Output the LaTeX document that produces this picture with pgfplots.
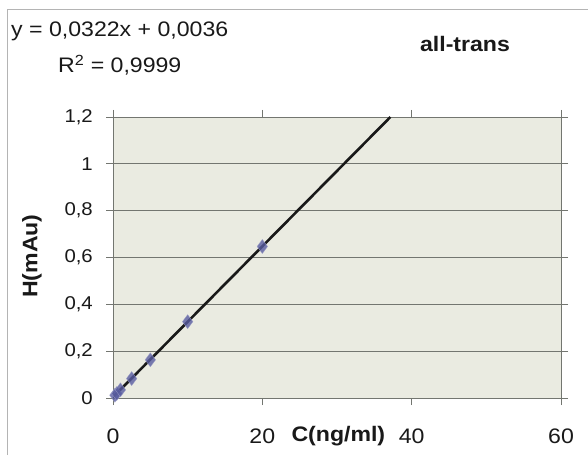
\documentclass[border=0pt]{standalone}
\usepackage{pgfplots}
\pgfplotsset{compat=1.18}
\usepackage{fontspec}
\setmainfont{Liberation Sans}[FakeStretch=1.1]

\definecolor{plotbg}{RGB}{234,235,225}
\definecolor{gridgray}{RGB}{115,118,112}
\definecolor{markblue}{RGB}{88,92,160}
\definecolor{framegray}{RGB}{180,180,180}

\begin{document}
\begin{tikzpicture}[x=1pt,y=1pt]
\path[use as bounding box] (0,0) rectangle (588,455);
\fill[white] (0,0) rectangle (588,455);
\draw[framegray, line width=1pt] (7,0) -- (7,445) -- (588,445);

\begin{axis}[
    at={(113pt,57pt)}, anchor=south west,
    scale only axis,
    width=448pt, height=281pt,
    xmin=0, xmax=60, ymin=0, ymax=1.2,
    xtick={0,20,40,60},
    ytick={0,0.2,0.4,0.6,0.8,1,1.2},
    axis background/.style={fill=plotbg},
    axis line style={gridgray, line width=0.9pt},
    tick style={gridgray, line width=0.9pt},
    tick align=outside,
    major tick length=7pt,
    ymajorgrids,
    grid style={gridgray, line width=0.9pt},
    /pgf/number format/.cd, use comma, fixed, precision=1, assume math mode=true,
    /pgfplots/.cd,
    xticklabel style={font=\fontsize{21}{24}\selectfont, text=black!90, inner sep=0pt, anchor=north, yshift=-24pt},
    yticklabel style={font=\fontsize{18.5}{22}\selectfont, text=black!90, inner sep=0pt, anchor=east, xshift=-13pt},
    xlabel={\textbf{C(ng/ml)}},
    xlabel style={font=\fontsize{21}{24}\selectfont, text=black!90, at={(axis description cs:0.503,-0.135)}, anchor=center},
    ylabel={\textbf{H(mAu)}},
    ylabel style={font=\fontsize{21}{24}\selectfont, text=black!90, at={(axis description cs:-0.181,0.505)}, anchor=center},
    clip=true,
]
% measured points
\addplot[only marks, mark=diamond*, mark size=7pt, draw=markblue!60, fill=markblue, opacity=0.8]
  coordinates {(0.25,0.012) (0.5,0.019) (1,0.035) (2.5,0.083) (5,0.163) (10,0.326) (20,0.647)};
% trendline y = 0.0322x + 0.0036, drawn between its end points
\addplot[black!90, line width=2.6pt] coordinates {(0,0.0036) (37.15,1.2)};
\end{axis}

\node[anchor=west, inner sep=0pt, font=\fontsize{21}{24}\selectfont, text=black!90] at (11,424) {y = 0,0322x + 0,0036};
\node[anchor=west, inner sep=0pt, font=\fontsize{21}{24}\selectfont, text=black!90] at (58,390) {R\textsuperscript{2} = 0,9999};
\node[anchor=center, inner sep=0pt, font=\bfseries\fontsize{21}{24}\selectfont, text=black!90] at (465,411) {all-trans};
\end{tikzpicture}
\end{document}
